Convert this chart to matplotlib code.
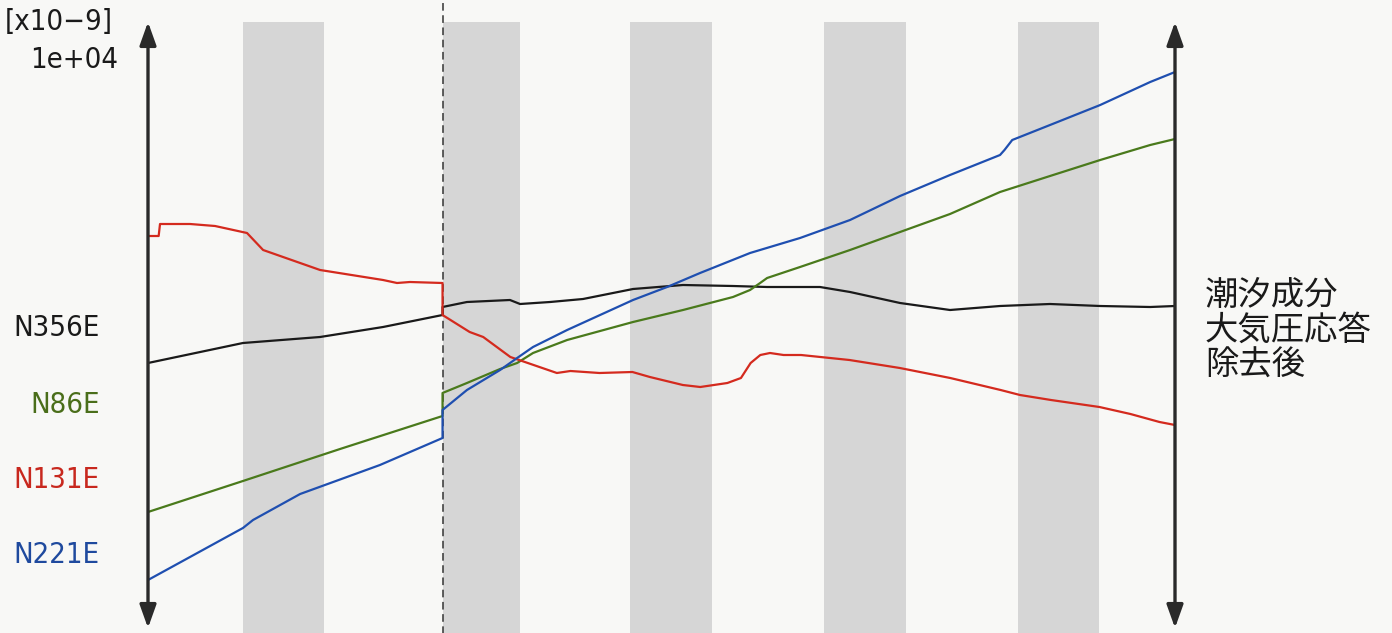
import matplotlib
matplotlib.use("Agg")
import matplotlib.pyplot as plt

# time axis in days, strain in arbitrary units (x10-9 scale)
event_day = 15.2
bands = [(4.9, 9.1), (15.2, 19.2), (24.9, 29.1), (34.9, 39.1), (44.9, 49.1)]

red_x = [0, 0.55, 0.62, 2.17, 3.46, 5.11, 5.94, 8.88, 12.13, 12.85, 13.52, 15.2, 15.2, 16.6, 17.3,
         18.7, 19.9, 21.1, 21.8, 23.3, 25.0, 25.9, 27.6, 28.5, 29.9, 30.6, 31.1, 31.6, 32.1, 32.8,
         33.7, 36.2, 38.8, 41.4, 44.0, 45.0, 46.6, 49.1, 50.7, 52.2, 53.0]
red_y = [392, 392, 404, 404, 402, 395, 378, 358, 348, 345, 346, 345, 313, 296, 291,
         271, 263, 255, 257, 255, 256, 251, 243, 241, 245, 250, 265, 273, 275, 273,
         273, 268, 260, 250, 238, 233, 228, 221, 214, 206, 203]

black_x = [0, 4.9, 8.88, 12.13, 15.2, 15.2, 16.46, 18.68, 19.2, 20.75, 22.45, 25.03, 27.61,
           30.19, 31.95, 33.65, 34.68, 36.23, 38.81, 41.39, 43.97, 46.55, 49.14, 51.72, 53.0]
black_y = [265, 285, 291, 301, 313, 321, 326, 328, 324, 326, 329, 339, 343,
           342, 341, 341, 341, 336, 325, 318, 322, 324, 322, 321, 322]

green_x = [0, 4.9, 9.91, 15.2, 15.2, 16.46, 18.17, 19.05, 19.87, 21.63, 25.03, 27.61, 30.19,
           31.07, 31.59, 31.95, 33.65, 36.23, 38.81, 41.39, 43.97, 46.55, 49.14, 51.72, 53.0]
green_y = [116, 147, 179, 212, 235, 245, 259, 265, 275, 288, 306, 318, 331,
           338, 345, 350, 361, 378, 396, 414, 436, 452, 468, 483, 489]

blue_x = [0, 4.9, 5.42, 7.85, 11.97, 15.2, 15.2, 16.46, 18.17, 19.05, 19.87, 21.63, 25.03, 26.79,
          28.49, 31.07, 33.65, 36.23, 38.81, 41.39, 43.97, 44.2, 44.6, 46.55, 49.14, 51.72, 53.0]
blue_y = [48, 100, 108, 134, 163, 190, 218, 238, 258, 270, 281, 298, 328, 341,
          355, 375, 390, 408, 432, 453, 473, 478, 488, 503, 523, 546, 556]

names = ["N356E", "N86E", "N131E", "N221E"]
name_y = [300, 223, 148, 73]
colors = ["#1a1a1a", "#4a7a1c", "#d42a1e", "#1f4fb0"]
label_colors = ["#1a1a1a", "#4a6e1a", "#c8281e", "#1f4a9e"]

lat = ["DejaVu Sans"]
cjk = ["Noto Sans CJK JP", "DejaVu Sans"]

fig = plt.figure(figsize=(13.92, 6.33), dpi=100, facecolor="#f8f8f6")
ax = fig.add_axes([148 / 1392, 5 / 633, 1027 / 1392, 606 / 633])
ax.set_facecolor("none")
ax.set_xlim(0, 53)
ax.set_ylim(0, 606)
ax.axis("off")

for b0, b1 in bands:
    ax.axvspan(b0, b1, ymin=-0.01, ymax=1.0, color="#d6d6d6", lw=0, clip_on=False, zorder=0)
ax.axvline(event_day, ymin=-0.01, ymax=1.04, color="#333333", lw=1.1, ls=(0, (5, 3)),
           clip_on=False, zorder=1)

ax.plot(black_x, black_y, color=colors[0], lw=1.6, zorder=3)
ax.plot(green_x, green_y, color=colors[1], lw=1.6, zorder=3)
ax.plot(red_x, red_y, color=colors[2], lw=1.6, zorder=3)
ax.plot(blue_x, blue_y, color=colors[3], lw=1.6, zorder=3)

for xa in (0, 53):
    ax.annotate("", xy=(xa, 606), xytext=(xa, 0),
                arrowprops=dict(arrowstyle="<|-|>,head_length=1.4,head_width=0.5",
                                color="#2a2a2a", lw=2.4, shrinkA=0, shrinkB=0),
                annotation_clip=False, zorder=5)

for n, yy, c in zip(names, name_y, label_colors):
    ax.text(-2.5, yy, n, color=c, fontsize=21, family=lat, stretch="condensed",
            ha="right", va="center")

fig.text(5 / 1392, 1 - 22 / 633, "[x10\u22129]", fontsize=21, family=lat, stretch="condensed",
         ha="left", va="center", color="#1a1a1a")
fig.text(118 / 1392, 1 - 60 / 633, "1e+04", fontsize=21, family=lat, stretch="condensed",
         ha="right", va="center", color="#1a1a1a")
fig.text(1205 / 1392, 1 - 330 / 633, "潮汐成分\n大気圧応答\n除去後", fontsize=24, family=cjk,
         ha="left", va="center", linespacing=1.0, color="#1a1a1a")

fig.savefig("out.png", dpi=100, facecolor=fig.get_facecolor())
